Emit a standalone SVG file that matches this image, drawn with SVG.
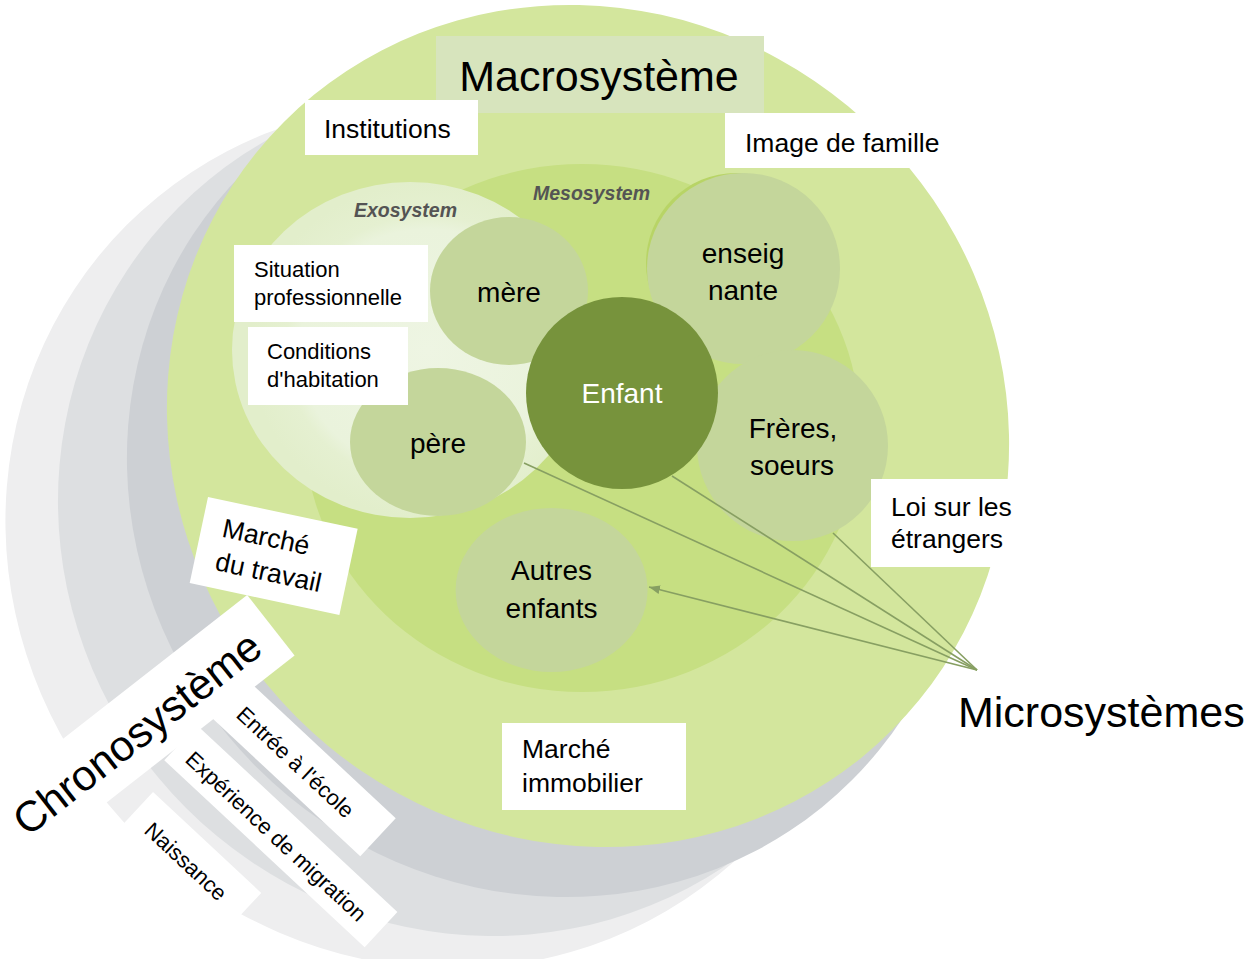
<svg xmlns="http://www.w3.org/2000/svg" width="1256" height="959" viewBox="0 0 1256 959">
<defs>
<style>
.t{font-family:"Liberation Sans",Arial,sans-serif;fill:#000}
.lbl{font-size:26.5px}
.sm{font-size:22px}
.big{font-size:43px}
.box{fill:#fff}
.node{fill:#c4d69b}
.nt{font-family:"Liberation Sans",Arial,sans-serif;font-size:28px;fill:#000;text-anchor:middle}
.sys{font-family:"Liberation Sans",Arial,sans-serif;font-size:19.5px;font-weight:bold;font-style:italic;fill:#545454}
.conn{stroke:#879f62;stroke-width:1.6;fill:none}
</style>
<radialGradient id="exoG" cx="0.55" cy="0.5" r="0.5">
<stop offset="0" stop-color="#eef5e3"/>
<stop offset="0.72" stop-color="#eaf3dc"/>
<stop offset="0.8" stop-color="#e5f0d1"/>
<stop offset="1" stop-color="#e2eecb"/>
</radialGradient>
<marker id="ah" viewBox="0 0 10 8" refX="10" refY="4" markerWidth="11" markerHeight="9" orient="auto" markerUnits="userSpaceOnUse">
<path d="M0,0 L10,4 L0,8 z" fill="#879f62"/>
</marker>
</defs>

<g id="background">
<rect width="1256" height="959" fill="#fff"/>
<ellipse cx="438" cy="536" rx="440" ry="425" transform="rotate(45 438 536)" fill="#eeeeef"/>
<ellipse cx="483" cy="511" rx="430" ry="420" transform="rotate(45 483 511)" fill="#dddfe1"/>
<ellipse cx="548" cy="476" rx="430" ry="412" transform="rotate(45 548 476)" fill="#cdd0d4"/>
<ellipse id="macro-ring" cx="588" cy="426" rx="430" ry="412" transform="rotate(45 588 426)" fill="#d3e69d"/>
<ellipse id="meso-ring" cx="582" cy="428" rx="278" ry="264" fill="#c6df82"/>
<circle cx="736" cy="263" r="90" fill="#b8d466"/>
<ellipse id="exo-ring" cx="410" cy="350" rx="178" ry="168" fill="url(#exoG)"/>
<text class="sys" x="533" y="200">Mesosystem</text>
<text class="sys" x="354" y="217">Exosystem</text>
</g>

<g id="node-enseignante">
<ellipse class="node" cx="743.5" cy="268.5" rx="96.5" ry="95.5"/>
<text class="nt" x="743" y="262.5">enseig</text>
<text class="nt" x="743" y="300">nante</text>
</g>
<g id="node-freres">
<ellipse class="node" cx="792.5" cy="445.5" rx="95.5" ry="95.5"/>
<text class="nt" x="793" y="437.5">Frères,</text>
<text class="nt" x="792" y="475">soeurs</text>
</g>
<g id="node-mere">
<ellipse class="node" cx="509" cy="291" rx="79" ry="74"/>
<text class="nt" x="509" y="302">mère</text>
</g>
<g id="node-pere">
<ellipse class="node" cx="438" cy="442" rx="88" ry="74"/>
<text class="nt" x="438" y="453">père</text>
</g>
<g id="node-autres">
<ellipse class="node" cx="551.6" cy="590" rx="96" ry="82"/>
<text class="nt" x="551.5" y="580">Autres</text>
<text class="nt" x="551.5" y="618">enfants</text>
</g>
<g id="node-enfant">
<circle cx="622" cy="393" r="96" fill="#77933c"/>
<text class="nt" x="622" y="403" style="fill:#fff">Enfant</text>
</g>

<g id="connectors">
<line class="conn" x1="977" y1="670" x2="649" y2="587" marker-end="url(#ah)"/>
<line class="conn" x1="977" y1="670" x2="524" y2="463"/>
<line class="conn" x1="977" y1="670" x2="672" y2="476"/>
<line class="conn" x1="977" y1="670" x2="833" y2="533"/>
</g>

<g id="label-macrosysteme">
<rect x="436" y="36" width="328" height="77" fill="#d7e4bd"/>
<text class="t big" x="599" y="91" text-anchor="middle">Macrosystème</text>
</g>
<g id="label-institutions">
<rect class="box" x="305" y="100" width="173" height="55"/>
<text class="t lbl" x="324" y="138">Institutions</text>
</g>
<g id="label-image-famille">
<rect class="box" x="725" y="113" width="235" height="55"/>
<text class="t lbl" x="745" y="152">Image de famille</text>
</g>
<g id="label-situation">
<rect class="box" x="234" y="245" width="194" height="77"/>
<text class="t sm" x="254" y="277">Situation</text>
<text class="t sm" x="254" y="305">professionnelle</text>
</g>
<g id="label-conditions">
<rect class="box" x="248" y="327" width="160" height="78"/>
<text class="t sm" x="267" y="359">Conditions</text>
<text class="t sm" x="267" y="387">d'habitation</text>
</g>
<g id="label-loi">
<rect class="box" x="871" y="479" width="140" height="88"/>
<text class="t lbl" x="891" y="516">Loi sur les</text>
<text class="t lbl" x="891" y="548">étrangers</text>
</g>
<g id="label-marche-immobilier">
<rect class="box" x="502" y="723" width="184" height="87"/>
<text class="t lbl" x="522" y="758">Marché</text>
<text class="t lbl" x="522" y="792">immobilier</text>
</g>
<g id="label-marche-travail" transform="translate(208,497) rotate(12)">
<rect class="box" x="0" y="0" width="153" height="88"/>
<text class="t lbl" x="21" y="36">Marché</text>
<text class="t lbl" x="21" y="70">du travail</text>
</g>
<g id="label-microsystemes">
<text class="t big" x="958" y="727">Microsystèmes</text>
</g>

<g id="chrono-naissance" transform="translate(143.1,832) rotate(43)">
<rect class="box" x="-20" y="-36" width="148" height="48"/>
<text class="t sm" x="0" y="0">Naissance</text>
</g>
<g id="chrono-migration" transform="translate(184.1,761) rotate(43)">
<rect class="box" x="-15" y="-35" width="274" height="48"/>
<text class="t sm" x="0" y="0">Expérience de migration</text>
</g>
<g id="chrono-ecole" transform="translate(235.1,716.3) rotate(43)">
<rect class="box" x="-45" y="-35" width="232" height="52"/>
<text class="t sm" x="0" y="0">Entrée à l'école</text>
</g>
<g id="label-chronosysteme" transform="rotate(-38)">
<rect class="box" x="-520" y="621" width="348.5" height="77"/>
<text class="t big" x="-494" y="677">Chronosystème</text>
</g>
</svg>
